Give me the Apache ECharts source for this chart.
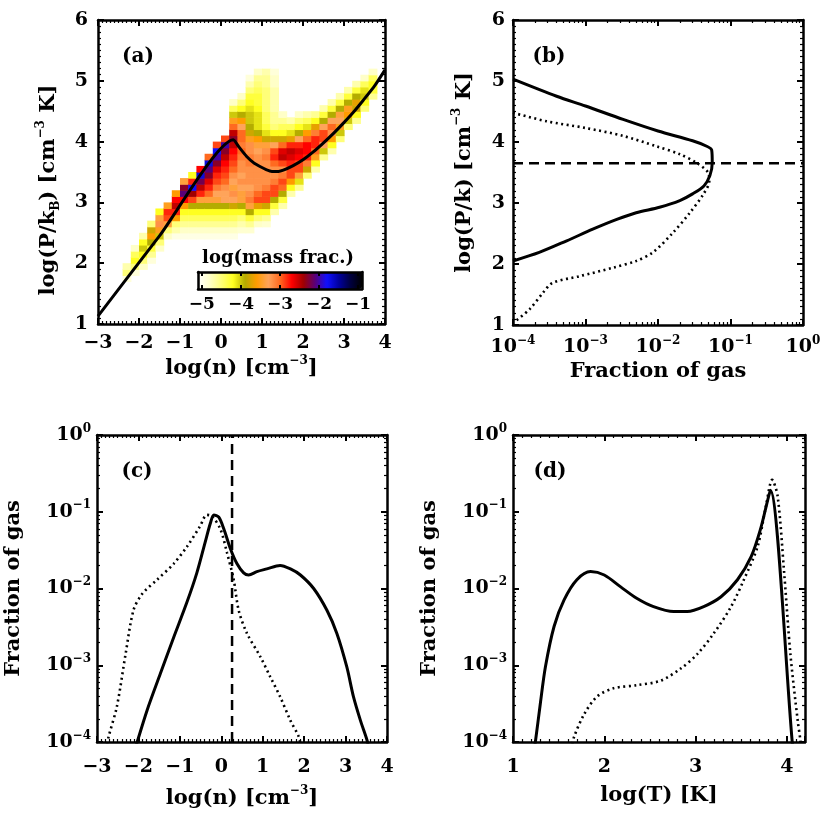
<!DOCTYPE html>
<html><head><meta charset="utf-8">
<script src="https://cdn.jsdelivr.net/npm/echarts@6/dist/echarts.min.js"></script>
<style>html,body{margin:0;padding:0;background:#fff}#c{width:830px;height:830px}</style>
</head><body><div id="c"></div>
<script>
// ---------- DATA ----------
// (a) 2D histogram: column centres in log(n), bottom log(P/k) of first cell, log(mass frac.) per 0.1-dex cell upward
const heatN = [-2.3,-2.1,-1.9,-1.7,-1.5,-1.3,-1.1,-0.9,-0.7,-0.5,-0.3,-0.1,0.1,0.3,0.5,0.7,0.9,1.1,1.3,1.5,1.7,1.9,2.1,2.3,2.5,2.7,2.9,3.1,3.3,3.5,3.7];
const heatP0 = [1.7,1.8,1.9,2.0,2.2,2.4,2.4,2.4,2.4,2.4,2.4,2.4,2.4,2.4,2.5,2.5,2.6,2.6,2.8,2.9,3.1,3.2,3.4,3.5,3.7,3.8,4.0,4.2,4.3,4.5,4.7];
const heatV = [
 [-4.9,-4.5,-4.7],
 [-4.9,-4.5,-4.2,-4.4,-4.8],
 [-4.8,-4.5,-4.2,-4.0,-4.2,-4.7],
 [-4.9,-4.6,-4.3,-3.9,-3.6,-3.8,-4.5],
 [-4.8,-4.5,-4.0,-3.5,-3.2,-3.4,-4.2],
 [-4.8,-4.5,-3.4,-2.9,-2.8,-3.5],
 [-4.95,-4.7,-4.5,-3.6,-2.8,-2.5,-2.7,-3.6],
 [-4.95,-4.8,-4.6,-4.4,-4.2,-3.6,-2.7,-2.1,-2.3,-3.4],
 [-4.95,-4.8,-4.6,-4.4,-4.2,-3.9,-2.9,-2.4,-1.8,-2.8,-4.2],
 [-4.95,-4.8,-4.6,-4.4,-4.2,-3.9,-3.4,-2.8,-2.5,-2.2,-1.7,-2.7],
 [-4.95,-4.8,-4.6,-4.4,-4.2,-3.9,-3.4,-3.0,-2.8,-2.6,-2.3,-2.1,-1.7,-3.0],
 [-4.95,-4.8,-4.6,-4.4,-4.2,-3.9,-3.4,-3.3,-3.1,-2.9,-2.8,-2.6,-2.3,-2.0,-1.8,-2.9],
 [-4.95,-4.8,-4.6,-4.4,-4.2,-3.9,-3.3,-3.3,-3.2,-3.0,-2.9,-2.8,-2.7,-2.5,-2.3,-2.0,-2.9],
 [-4.95,-4.8,-4.6,-4.4,-4.2,-3.8,-3.3,-3.2,-3.4,-3.3,-3.2,-3.0,-2.9,-2.8,-2.7,-2.5,-2.3,-2.5,-3.0,-3.5,-4.0,-4.4,-4.8],
 [-4.85,-4.7,-4.5,-4.2,-3.9,-3.4,-3.4,-3.3,-3.2,-3.3,-3.2,-3.2,-3.1,-3.0,-3.1,-3.0,-3.0,-3.3,-3.6,-3.9,-4.2,-4.5,-4.8],
 [-4.85,-4.6,-4.3,-3.9,-3.4,-3.1,-3.2,-3.3,-3.2,-3.2,-3.2,-3.1,-3.1,-3.2,-3.2,-3.5,-3.8,-3.9,-4.0,-4.0,-4.1,-4.2,-4.3,-4.5,-4.7,-4.9],
 [-4.8,-4.5,-4.2,-3.7,-2.9,-3.0,-3.2,-3.2,-3.2,-3.2,-3.2,-3.2,-3.3,-3.4,-3.6,-3.9,-4.1,-4.1,-4.1,-4.2,-4.3,-4.3,-4.4,-4.5,-4.6,-4.8],
 [-4.85,-4.6,-4.2,-3.8,-2.9,-2.9,-3.1,-3.2,-3.2,-3.2,-3.2,-3.1,-3.2,-3.4,-3.8,-4.1,-4.3,-4.4,-4.4,-4.5,-4.5,-4.5,-4.5,-4.6,-4.6,-4.7],
 [-4.7,-4.3,-3.9,-2.9,-2.9,-3.1,-3.2,-3.2,-3.0,-2.8,-2.9,-3.3,-3.8,-4.2,-4.5,-4.6,-4.6,-4.7,-4.7,-4.7,-4.7,-4.8,-4.8,-4.9],
 [-4.7,-4.3,-3.9,-3.0,-2.9,-3.1,-3.2,-2.9,-2.5,-2.6,-3.0,-3.8,-4.2,-4.4,-4.6,-4.8],
 [-4.7,-4.2,-3.6,-2.9,-2.9,-2.8,-2.6,-2.5,-2.8,-3.7,-4.1,-4.4,-4.7],
 [-4.6,-4.1,-3.4,-2.9,-2.9,-2.7,-2.6,-2.8,-3.3,-3.9,-4.2,-4.5,-4.8],
 [-4.5,-3.8,-3.1,-2.8,-2.7,-2.7,-3.0,-3.6,-4.1,-4.4,-4.7],
 [-4.7,-4.2,-3.5,-3.0,-2.8,-2.8,-3.1,-3.7,-4.2,-4.6],
 [-4.6,-4.0,-3.3,-2.9,-2.9,-3.3,-3.9,-4.3,-4.7],
 [-4.7,-4.2,-3.6,-3.2,-3.0,-3.3,-3.9,-4.3,-4.7],
 [-4.5,-4.0,-3.5,-3.3,-3.4,-3.9,-4.3,-4.7],
 [-4.5,-4.0,-3.6,-3.5,-3.9,-4.3,-4.7],
 [-4.6,-4.2,-3.8,-3.7,-3.9,-4.3,-4.7],
 [-4.5,-4.2,-4.0,-4.1,-4.4,-4.8],
 [-4.6,-4.3,-4.2,-4.4,-4.8]
];
const HEAT_DN = 0.2, HEAT_DP = 0.1;   // bin widths
const cbarTicks = [-5,-4,-3,-2,-1];
// (a) equilibrium curve [log n, log P/k]
const curveA = [[-3,1.13],[-1.5,2.45],[0.30,4.03],[0.45,3.90],[0.62,3.76],[0.80,3.65],[0.95,3.59],[1.10,3.54],[1.24,3.51],[1.40,3.51],[1.52,3.53],[1.75,3.60],[2.00,3.70],[2.25,3.83],[2.50,3.98],[2.75,4.14],[2.98,4.30],[3.25,4.50],[3.47,4.68],[3.75,4.92],[4.00,5.18]];
// (b) pressure PDF [fraction of gas, log P/k]
const solidB = [[1.0e-4,5.03],[4.0e-4,4.75],[1.0e-3,4.59],[3.3e-3,4.37],[1.0e-2,4.18],[3.0e-2,4.02],[4.7e-2,3.93],[5.5e-2,3.87],[5.6e-2,3.66],[5.2e-2,3.45],[4.3e-2,3.28],[3.0e-2,3.15],[2.0e-2,3.04],[1.05e-2,2.93],[5.0e-3,2.84],[2.7e-3,2.73],[1.26e-3,2.57],[5.5e-4,2.38],[2.3e-4,2.19],[1.0e-4,2.05]];
const dottedB = [[1.0e-4,4.48],[2.9e-4,4.34],[1.0e-3,4.23],[3.3e-3,4.10],[9.5e-3,3.93],[2.0e-2,3.80],[3.4e-2,3.66],[4.9e-2,3.50],[5.1e-2,3.36],[4.2e-2,3.14],[2.75e-2,2.84],[1.6e-2,2.51],[8.5e-3,2.19],[5.0e-3,2.05],[2.4e-3,1.94],[8.3e-4,1.80],[3.5e-4,1.69],[2.6e-4,1.53],[1.7e-4,1.26],[1.1e-4,1.07]];
const pThresh = 3.65;
// (c) density PDF [log n, fraction]
const solidC = [[-2.08,8e-5],[-2.03,1.0e-4],[-1.79,2.6e-4],[-1.47,7.8e-4],[-1.15,2.3e-3],[-0.83,6.6e-3],[-0.59,1.6e-2],[-0.39,4.0e-2],[-0.26,7.2e-2],[-0.18,9.1e-2],[-0.06,8.5e-2],[0.06,6.0e-2],[0.22,3.3e-2],[0.38,2.1e-2],[0.54,1.6e-2],[0.66,1.5e-2],[0.86,1.66e-2],[1.10,1.8e-2],[1.42,2.0e-2],[1.67,1.8e-2],[1.91,1.5e-2],[2.23,1.0e-2],[2.55,5.2e-3],[2.79,2.6e-3],[3.03,9.5e-4],[3.19,3.9e-4],[3.36,1.9e-4],[3.52,1.05e-4],[3.56,8e-5]];
const dottedC = [[-2.78,8e-5],[-2.72,1.17e-4],[-2.52,2.9e-4],[-2.31,1.4e-3],[-2.12,5.2e-3],[-1.91,8.5e-3],[-1.55,1.3e-2],[-1.15,2.1e-2],[-0.83,3.5e-2],[-0.51,6.5e-2],[-0.35,9.1e-2],[-0.22,8.7e-2],[-0.02,5.9e-2],[0.14,2.9e-2],[0.30,1.3e-2],[0.42,5.2e-3],[0.62,2.6e-3],[0.94,1.3e-3],[1.18,7.1e-4],[1.42,3.9e-4],[1.67,1.9e-4],[1.87,1.17e-4],[1.93,8e-5]];
const nThresh = 0.26;
// (d) temperature PDF [log T, fraction]
const solidD = [[1.23,8e-5],[1.245,1.0e-4],[1.30,3.2e-4],[1.355,9.5e-4],[1.45,3.2e-3],[1.56,7.1e-3],[1.70,1.3e-2],[1.85,1.66e-2],[2.00,1.5e-2],[2.18,1.05e-2],[2.36,7.4e-3],[2.54,5.8e-3],[2.76,5.0e-3],[2.91,5.0e-3],[3.09,5.8e-3],[3.28,7.8e-3],[3.46,1.3e-2],[3.61,2.6e-2],[3.71,5.8e-2],[3.79,0.14],[3.82,0.19],[4.06,1.0e-4],[4.07,8e-5]];
const dottedD = [[1.64,8e-5],[1.67,1.17e-4],[1.78,2.3e-4],[1.92,3.9e-4],[2.10,5.0e-4],[2.36,5.5e-4],[2.62,6.3e-4],[2.84,9.1e-4],[3.02,1.4e-3],[3.20,2.6e-3],[3.39,5.8e-3],[3.53,1.3e-2],[3.68,3.5e-2],[3.77,0.115],[3.84,0.26],[3.90,0.16],[3.97,1.7e-2],[4.04,1.4e-3],[4.12,1.9e-4],[4.15,1.05e-4],[4.16,8e-5]];

// ---------- STYLE ----------
const FONT = "'DejaVu Serif', serif";
const FS = 19, NFS = 21;
const mkRich = (fs) => ({
  b: {fontFamily: FONT, fontWeight: 'bold', fontSize: fs, color: '#000', lineHeight: fs + 6},
  s: {fontFamily: FONT, fontWeight: 'bold', fontSize: 12, color: '#000', lineHeight: 13, verticalAlign: 'top'},
  d: {fontFamily: FONT, fontWeight: 'bold', fontSize: 12, color: '#000', lineHeight: 10, verticalAlign: 'bottom'}
});
const RICH = mkRich(FS), NRICH = mkRich(NFS);
const M = '\u2212';
const linFmt = v => String(v).replace('-', M);
const logFmt = v => '{b|10}{s|' + String(Math.round(Math.log10(v))).replace('-', M) + '}';

const heatData = [];
heatN.forEach((n, i) => heatV[i].forEach((v, k) => heatData.push([n, +(heatP0[i] + k * HEAT_DP).toFixed(2), v])));

function axes(dir, grid, o) {
  const common = {
    type: o.type || 'value', gridIndex: grid, min: o.min, max: o.max,
    axisLine: {show: true, onZero: false, lineStyle: {color: '#000', width: 2.5}},
    axisTick: {show: true, inside: true, length: 6, lineStyle: {color: '#000', width: 2}},
    minorTick: {show: true, splitNumber: o.minor || 10, length: 3, lineStyle: {color: '#000', width: 1.2}},
    splitLine: {show: false}, minorSplitLine: {show: false}
  };
  if (o.interval) common.interval = o.interval;
  if (o.type === 'log') common.logBase = 10;
  const main = Object.assign({}, common, {
    position: dir === 'x' ? 'bottom' : 'left',
    name: o.name || '', nameLocation: 'middle', nameGap: o.nameGap || 30,
    nameTextStyle: Object.assign({rich: NRICH, fontFamily: FONT, fontWeight: 'bold', fontSize: NFS, color: '#000'}, o.nameStyle || {}),
    axisLabel: {show: true, margin: o.margin || 8, formatter: o.type === 'log' ? logFmt : linFmt, rich: RICH,
      fontFamily: FONT, fontWeight: 'bold', fontSize: FS, color: '#000'}
  });
  const other = Object.assign({}, common, {position: dir === 'x' ? 'top' : 'right', axisLabel: {show: false}});
  return [main, other];
}

const xAxes = [].concat(
  axes('x', 0, {min: -3, max: 4, interval: 1, name: '{b|log(n) [cm}{s|' + M + '3}{b|]}', nameGap: 31, margin: 10}),
  axes('x', 1, {type: 'log', min: 1e-4, max: 1, name: 'Fraction of gas', nameGap: 36, margin: 10, minor: 9}),
  axes('x', 2, {min: -3, max: 4, interval: 1, name: '{b|log(n) [cm}{s|' + M + '3}{b|]}', nameGap: 43, margin: 16}),
  axes('x', 3, {min: 1, max: 4.2, interval: 1, name: 'log(T) [K]', nameGap: 43, margin: 16})
);
const yAxes = [].concat(
  axes('y', 0, {min: 1, max: 6, interval: 1, name: '{b|log(P/k}{d|B}{b|) [cm}{s|' + M + '3}{b| K]}', nameGap: 36, margin: 10, nameStyle: {padding: [0, 36, 0, 0]}}),
  axes('y', 1, {min: 1, max: 6, interval: 1, name: '{b|log(P/k) [cm}{s|' + M + '3}{b| K]}', nameGap: 35, margin: 8}),
  axes('y', 2, {type: 'log', min: 1e-4, max: 1, name: 'Fraction of gas', nameGap: 73, margin: 6, minor: 9}),
  axes('y', 3, {type: 'log', min: 1e-4, max: 1, name: 'Fraction of gas', nameGap: 73, margin: 6, minor: 9})
);
// colour-bar frame axes
const cbLine = {show: true, onZero: false, lineStyle: {color: '#000', width: 2.5}};
xAxes.push({type: 'value', gridIndex: 4, position: 'bottom', min: -5.1, max: -0.9, z: 10, axisLine: cbLine,
  axisTick: {show: true, inside: true, length: 4, customValues: cbarTicks, lineStyle: {color: '#000', width: 2}},
  axisLabel: {show: true, customValues: cbarTicks, formatter: linFmt, margin: 7, fontFamily: FONT, fontWeight: 'bold', fontSize: 17, color: '#000'},
  splitLine: {show: false}});
xAxes.push({type: 'value', gridIndex: 4, position: 'top', min: -5.1, max: -0.9, z: 10, axisLine: cbLine,
  axisTick: {show: true, inside: true, length: 4, customValues: cbarTicks, lineStyle: {color: '#000', width: 2}},
  axisLabel: {show: false}, splitLine: {show: false}});
yAxes.push({type: 'value', gridIndex: 4, position: 'left', min: 0, max: 1, z: 10, axisLine: cbLine,
  axisTick: {show: false}, axisLabel: {show: false}, splitLine: {show: false}});
yAxes.push({type: 'value', gridIndex: 4, position: 'right', min: 0, max: 1, z: 10, axisLine: cbLine,
  axisTick: {show: false}, axisLabel: {show: false}, splitLine: {show: false}});

const solid = {color: '#000', width: 3};
const dotted = {color: '#000', width: 2.6, type: [2, 3.5]};
const dashed = {color: '#000', width: 2.5, type: [10, 6]};
function line(gridIdx, data, ls, smooth) {
  return {type: 'line', xAxisIndex: 2 * gridIdx, yAxisIndex: 2 * gridIdx, data: data, showSymbol: false, symbol: 'none',
    smooth: smooth || false, lineStyle: ls, clip: true, silent: true, z: 5, animation: false};
}

const chart = echarts.init(document.getElementById('c'), null, {renderer: 'canvas'});
chart.setOption({
  backgroundColor: '#fff',
  animation: false,
  grid: [
    {left: 98, top: 20, width: 287, height: 304},
    {left: 513, top: 20, width: 290, height: 305},
    {left: 97, top: 435, width: 290, height: 307},
    {left: 513, top: 435, width: 292, height: 307},
    {left: 198, top: 272, width: 164, height: 17}
  ],
  xAxis: xAxes,
  yAxis: yAxes,
  visualMap: {
    type: 'continuous', seriesIndex: 0, dimension: 2, min: -5.1, max: -0.9,
    orient: 'horizontal', left: 198, top: 272, itemWidth: 17, itemHeight: 164,
    calculable: false, hoverLink: false, padding: 0, text: null,
    inRange: {color: ['#ffffff', '#ffffc8', '#ffff78', '#ffff20', '#b4ac00', '#ff9c00', '#ffa45a', '#ff6a20',
      '#ff0000', '#a00000', '#5a0078', '#1010ff', '#0000a0', '#000040', '#000000']}
  },
  series: [
    {type: 'custom', xAxisIndex: 0, yAxisIndex: 0, data: heatData, clip: true, silent: true, z: 2,
      renderItem: (params, api) => {
        const n = api.value(0), p = api.value(1);
        const tl = api.coord([n - HEAT_DN / 2, p + HEAT_DP]);
        const br = api.coord([n + HEAT_DN / 2, p]);
        return {type: 'rect', shape: {x: tl[0], y: tl[1], width: br[0] - tl[0] + 0.6, height: br[1] - tl[1] + 0.6},
          style: {fill: api.visual('color')}};
      }},
    line(0, curveA, solid, 0.2),
    line(1, solidB, solid, 0.3),
    line(1, dottedB, dotted, 0.3),
    line(1, [[1e-4, pThresh], [1, pThresh]], dashed),
    line(2, solidC, solid, 0.3),
    line(2, dottedC, dotted, 0.3),
    line(2, [[nThresh, 1e-4], [nThresh, 1]], dashed),
    line(3, solidD, solid, 0.3),
    line(3, dottedD, dotted, 0.3)
  ],
  graphic: [
    {type: 'text', x: 138, y: 57, style: {text: '(a)', fontFamily: FONT, fontWeight: 'bold', fontSize: 20, fill: '#000', align: 'center', verticalAlign: 'middle'}},
    {type: 'text', x: 549, y: 57, style: {text: '(b)', fontFamily: FONT, fontWeight: 'bold', fontSize: 20, fill: '#000', align: 'center', verticalAlign: 'middle'}},
    {type: 'text', x: 137, y: 472, style: {text: '(c)', fontFamily: FONT, fontWeight: 'bold', fontSize: 20, fill: '#000', align: 'center', verticalAlign: 'middle'}},
    {type: 'text', x: 550, y: 472, style: {text: '(d)', fontFamily: FONT, fontWeight: 'bold', fontSize: 20, fill: '#000', align: 'center', verticalAlign: 'middle'}},
    {type: 'text', x: 278, y: 258, style: {text: 'log(mass frac.)', fontFamily: FONT, fontWeight: 'bold', fontSize: 18, fill: '#000', align: 'center', verticalAlign: 'middle'}}
  ]
});
</script></body></html>
